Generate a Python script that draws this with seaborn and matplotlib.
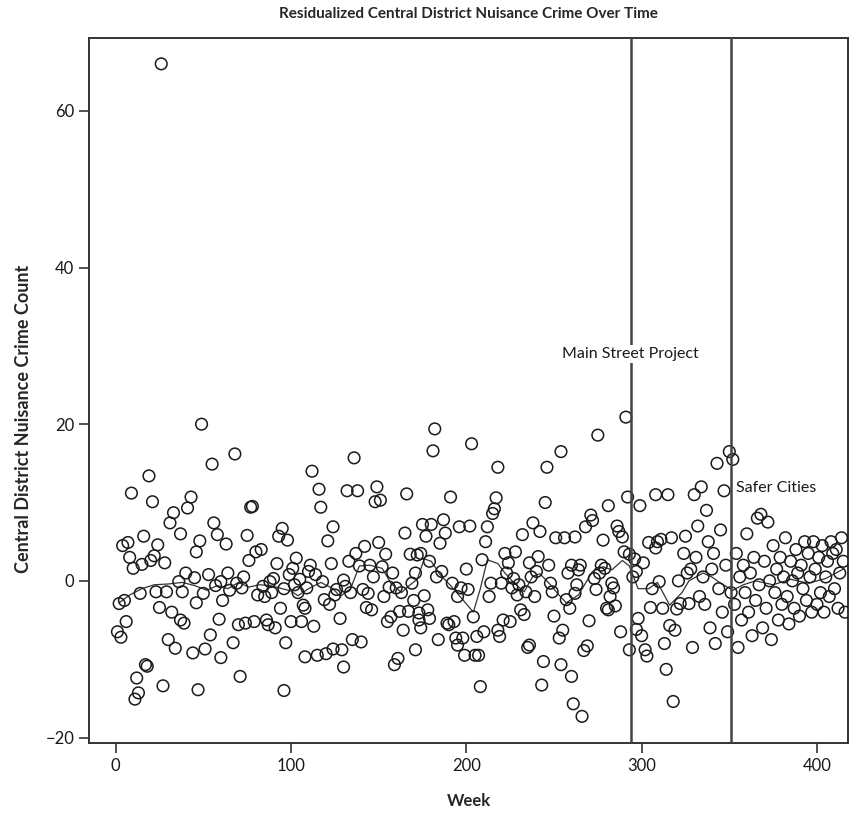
import matplotlib
matplotlib.use("Agg")
import matplotlib.pyplot as plt
import seaborn as sns
import pandas as pd

# ---- observed weekly residualized counts (week, value) ----
weeks = [
    49, 68, 55, 19, 9, 21, 43, 41, 77, 78, 33, 31, 56, 37, 58, 63, 75, 16, 7, 4,
    48, 24, 46, 8, 22, 28, 10, 15, 20, 76, 80, 40, 53, 64, 73, 36, 60, 69, 45, 57,
    65, 2, 5, 14, 23, 29, 38, 46, 50, 61, 72, 81, 6, 1, 3, 25, 32, 37, 39, 59,
    70, 74, 79, 54, 30, 34, 44, 51, 67, 60, 17, 18, 12, 27, 47, 71, 13, 11, 26,
    112, 116, 117, 124, 121, 95, 93, 98, 83, 92, 103, 101, 111, 123, 99, 114, 118, 90, 88, 84,
    109, 104, 126, 119, 125, 85, 107, 108, 94, 86, 87, 91, 100, 106, 113, 97, 96, 108, 115, 120,
    124, 96, 89, 102, 105, 110, 122,
    136, 132, 138, 149, 148, 151, 166, 165, 150, 137, 142, 154, 139, 145, 152, 168, 172, 171, 169, 156,
    160, 163, 130, 131, 134, 141, 144, 143, 146, 128, 157, 155, 162, 167, 173, 164, 135, 140, 129, 130,
    159, 161, 171, 133, 147, 153, 158, 170,
    182, 203, 181, 218, 191, 217, 216, 215, 175, 180, 187, 177, 188, 185, 196, 202, 212, 211, 174, 179,
    209, 186, 192, 197, 201, 214, 176, 195, 178, 173, 179, 204, 189, 193, 190, 174, 210, 206, 218, 184,
    198, 194, 195, 199, 205, 207, 208, 183, 200, 213,
    246, 245, 238, 242, 232, 251, 222, 228, 224, 236, 241, 240, 220, 227, 226, 230, 234, 229, 248, 249,
    231, 233, 225, 221, 219, 236, 235, 244, 243, 223, 239, 247, 250, 237,
    291, 275, 254, 308, 315, 292, 281, 299, 271, 272, 268, 286, 287, 289, 278, 256, 262, 304, 309, 311,
    317, 325, 324, 308, 290, 293, 296, 301, 260, 265, 264, 277, 279, 276, 273, 297, 326, 310, 283, 274,
    284, 262, 257, 259, 280, 281, 285, 305, 312, 320, 322, 327, 298, 270, 288, 297, 300, 316, 319, 255,
    253, 269, 267, 293, 302, 303, 313, 314, 254, 260, 261, 266, 318, 295, 306, 321, 263, 258, 282,
    330, 329, 331, 332, 333, 334, 335, 336, 337, 338, 339, 340, 341, 342, 343, 344, 345, 346, 347, 348,
    349, 350, 351, 352, 353, 354, 355, 356, 357, 358, 359, 360, 361, 362, 363, 364, 365, 366, 367, 368,
    369, 370, 371, 372, 373, 374, 375, 376, 377, 378, 379, 380, 381, 382, 383, 384, 385, 386, 387, 388,
    389, 390, 391, 392, 393, 394, 395, 396, 397, 398, 399, 400, 401, 402, 403, 404, 405, 406, 407, 408,
    409, 410, 411, 412, 413, 414, 415, 416, 328,
]
crime = [
    20.0, 16.2, 14.9, 13.4, 11.2, 10.1, 10.7, 9.3, 9.4, 9.5, 8.7, 7.4, 7.4, 6.0, 5.9, 4.7, 5.8, 5.7, 4.9, 4.5,
    5.1, 4.6, 3.7, 3.0, 3.2, 2.3, 1.6, 2.1, 2.6, 2.6, 3.7, 1.0, 0.8, 1.0, 0.5, -0.1, -0.1, -0.3, 0.4, -0.6,
    -1.2, -2.9, -2.5, -1.6, -1.4, -1.4, -1.4, -2.8, -1.6, -2.5, -0.9, -1.8, -5.2, -6.5, -7.2, -3.4, -4.0, -5.0, -5.4, -4.9,
    -5.6, -5.4, -5.2, -6.9, -7.5, -8.6, -9.2, -8.7, -7.9, -9.8, -10.7, -10.9, -12.4, -13.4, -13.9, -12.2, -14.3, -15.1, 66.0,
    14.0, 11.7, 9.4, 6.9, 5.1, 6.7, 5.7, 5.2, 4.0, 2.2, 2.9, 1.6, 2.0, 2.2, 0.8, 0.8, -0.1, 0.3, -0.1, -0.7,
    -0.9, -1.5, -1.1, -2.4, -1.8, -2.0, -3.1, -3.5, -3.5, -5.0, -5.6, -6.0, -5.2, -5.2, -5.8, -7.9, -14.0, -9.7, -9.5, -9.3,
    -8.7, -1.0, -1.5, -0.5, 0.2, 1.2, -3.0,
    15.7, 11.5, 11.5, 12.0, 10.1, 10.3, 11.1, 6.1, 4.9, 3.5, 4.4, 3.4, 1.9, 2.0, 1.8, 3.4, 3.3, 1.0, -0.3, -0.8,
    -0.9, -1.5, 0.1, -0.7, -1.5, -1.1, -1.6, -3.4, -3.7, -4.8, -4.6, -5.2, -3.9, -3.9, -5.0, -6.3, -7.5, -7.8, -8.8, -11.0,
    -10.7, -9.9, -8.8, 2.5, 0.5, -2.0, 1.0, -2.5,
    19.4, 17.5, 16.6, 14.5, 10.7, 10.6, 9.2, 8.6, 7.2, 7.2, 7.8, 5.7, 6.1, 4.8, 6.9, 7.0, 6.9, 5.0, 3.5, 2.5,
    2.7, 1.2, -0.3, -0.9, -1.1, -0.3, -1.9, -2.0, -3.7, -4.1, -4.8, -4.6, -5.4, -5.2, -5.6, -6.0, -6.5, -7.1, -6.3, -7.5,
    -7.3, -7.3, -8.2, -9.5, -9.5, -9.5, -13.5, 0.5, 1.5, -2.0,
    14.5, 10.0, 7.4, 6.3, 5.9, 5.5, 3.5, 3.7, 2.3, 2.3, 3.1, 1.2, -0.3, 0.3, -0.9, -0.5, -1.4, -1.8, -0.3, -1.4,
    -3.7, -4.3, -5.2, -5.0, -7.1, -8.2, -8.5, -10.3, -13.3, 1.0, -2.0, 2.0, -4.5, 0.5,
    20.9, 18.6, 16.5, 11.0, 11.0, 10.7, 9.6, 9.6, 8.4, 7.7, 6.9, 7.0, 6.3, 5.6, 5.2, 5.5, 5.6, 4.9, 5.0, 5.3,
    5.5, 5.7, 3.5, 4.2, 3.7, 3.4, 2.8, 2.3, 2.0, 2.0, 1.4, 2.0, 1.6, 1.0, 0.3, 1.2, 1.0, -0.1, -0.3, -1.1,
    -0.9, -1.6, -2.4, -3.5, -3.5, -3.7, -3.2, -3.4, -3.5, -3.6, -2.9, -2.9, -4.8, -5.1, -6.5, -6.2, -7.0, -5.7, -6.3, -6.3,
    -7.3, -8.3, -8.9, -8.8, -8.8, -9.6, -8.0, -11.3, -10.7, -12.2, -15.7, -17.3, -15.4, 0.5, -1.0, 0.0, -0.5, 1.0, -2.0,
    11.0, -8.5, 3.0, 7.0, -2.0, 12.0, 0.5, -3.0, 9.0, 5.0, -6.0, 1.5, 3.5, -8.0, 15.0, -1.0, 6.5, -4.0, 11.5, 2.0,
    -6.5, 16.5, -1.5, 15.5, -3.0, 3.5, -8.5, 0.5, -5.0, 2.0, -1.5, 6.0, -4.0, 1.0, -7.0, 3.0, -2.5, 8.0, -0.5, 8.5,
    -6.0, 2.5, -3.5, 7.5, 0.0, -7.5, 4.5, -1.5, 1.5, -5.0, 3.0, -3.0, 0.5, 5.5, -2.0, -5.5, 2.5, 0.0, -3.5, 4.0,
    1.0, -4.5, 2.0, -1.0, 5.0, -2.5, 3.5, 0.5, -4.0, 5.0, 1.5, -3.0, 3.0, -1.5, 4.5, -4.0, 0.5, 2.5, -2.0, 5.0,
    3.5, -1.0, 4.0, -3.5, 1.0, 5.5, 2.5, -4.0, 1.5,
]

# ---- smoothed trend line (week, value) ----
trend_weeks = [2, 8, 15, 22, 30, 38, 45, 52, 58, 64, 70, 76, 82, 88, 95, 100, 104, 110, 117, 124,
               128, 134, 139, 145, 152, 157, 163, 168, 172, 176, 180, 185, 191, 198, 204, 208, 212, 218, 222, 227,
               233, 238, 242, 248, 252, 257, 264, 272, 278, 283, 289, 293, 298, 304, 309, 316, 323, 327, 335, 340,
               345, 352, 358, 365, 375, 385, 395, 405, 415]
trend_vals = [-2.8, -1.8, -1.0, -0.5, -0.4, -0.2, -0.6, -1.2, -0.6, -1.0, -0.2, -0.8, -0.5, -0.6, -1.0, -1.3, -1.9, -1.0, -0.2, -1.0,
              -2.0, -1.0, 1.9, 2.0, 1.6, -0.3, -1.5, -0.5, 0.2, 2.8, 2.5, 0.8, -0.6, -2.4, -4.0, -1.0, 2.7, 2.2, 1.0, -0.2,
              -1.4, 0.6, 0.9, -0.5, -1.6, -2.8, -1.8, 1.2, 1.8, 1.4, 2.6, 1.9, -1.0, -1.0, -0.2, -3.1, -1.5, 0.0, 1.0, 0.5,
              -0.3, -1.2, -0.5, 0.0, -0.5, 0.2, -0.3, 0.3, 1.5]

interventions = [293.7, 351.0]
intervention_labels = ["Main Street Project", "Safer Cities"]

xticks = [0, 100, 200, 300, 400]
yticks = [-20, 0, 20, 40, 60]

# ------------------------------------------------------------------
sns.set_style("ticks")
plt.rcParams["font.family"] = ["Lato", "DejaVu Sans"]

W, H = 867, 832
fig = plt.figure(figsize=(W / 100, H / 100), dpi=100)
ax = fig.add_axes([89 / W, (H - 743) / H, (848 - 89) / W, (743 - 38) / H])

df = pd.DataFrame({"Week": weeks, "Count": crime})
tr = pd.DataFrame({"Week": trend_weeks, "Count": trend_vals})

sns.lineplot(data=tr, x="Week", y="Count", ax=ax, color="#333333", linewidth=0.9,
             estimator=None, sort=True, zorder=2)
sns.scatterplot(data=df, x="Week", y="Count", ax=ax, marker="o", s=70,
                facecolor="none", edgecolor="#1a1a1a", linewidth=1.1, zorder=3)

for xv in interventions:
    ax.axvline(xv, color="#444444", linewidth=1.8, zorder=4)

ax.text(interventions[0], 29.0, intervention_labels[0], ha="center", va="center",
        fontsize=11.5, color="#1a1a1a", zorder=5,
        bbox=dict(facecolor="white", edgecolor="none", pad=1.5))
ax.text(interventions[1] + 3, 11.8, intervention_labels[1], ha="left", va="center",
        fontsize=11.5, color="#1a1a1a", zorder=5)

ax.set_xlim(-15.2, 417.7)
ax.set_ylim(-20.7, 69.3)
ax.set_xticks(xticks)
ax.set_yticks(yticks)
ax.tick_params(axis="both", labelsize=12, length=7, width=1.2, color="#333333", labelcolor="#1a1a1a")
for sp in ax.spines.values():
    sp.set_color("#333333")
    sp.set_linewidth(1.4)

ax.set_xlabel("Week", fontsize=12, fontweight="bold", labelpad=14)
ax.set_ylabel("Central District Nuisance Crime Count", fontsize=13, fontweight="bold")
ax.yaxis.set_label_coords(-0.075, 0.46)
fig.suptitle("Residualized Central District Nuisance Crime Over Time", fontsize=11,
             fontweight="bold", x=(89 + 848) / 2 / W, y=1 - 14 / H, va="center")

fig.savefig("out.png", dpi=100)
